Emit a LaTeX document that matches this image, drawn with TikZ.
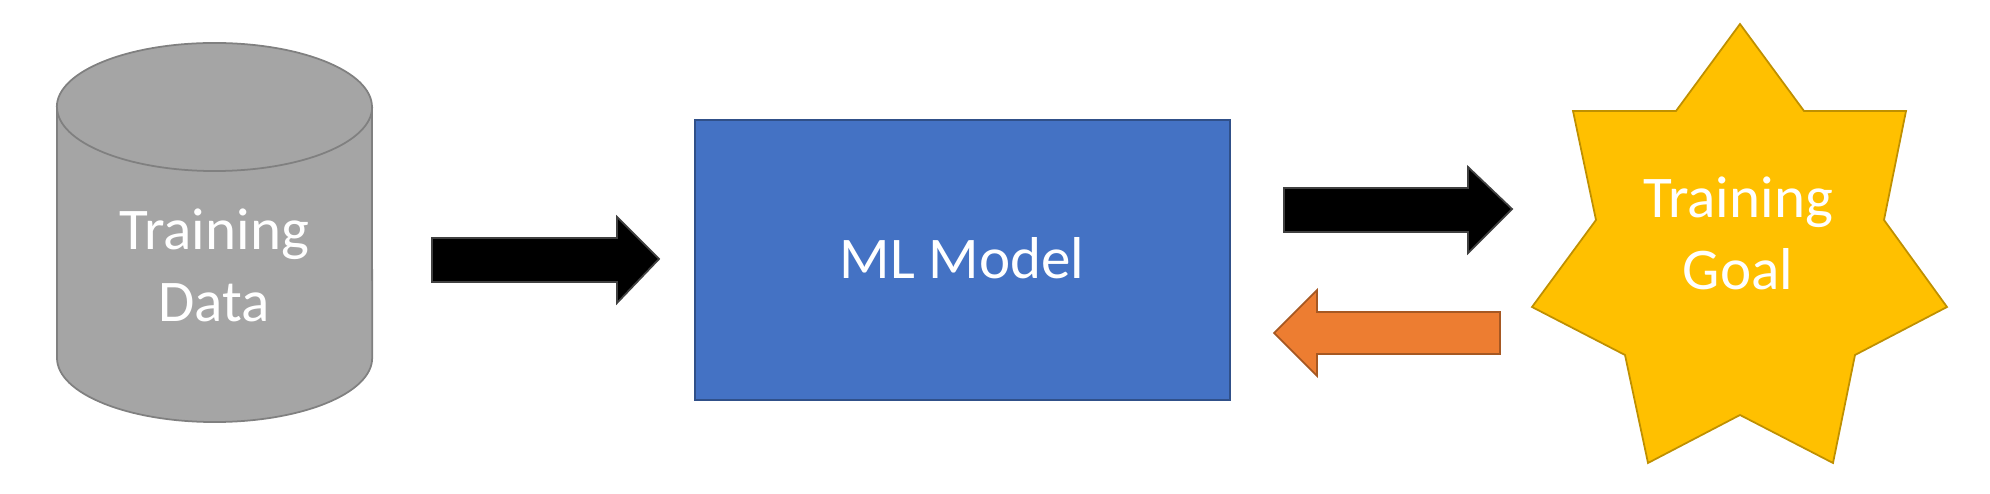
\documentclass[tikz,border=0pt]{standalone}
\usepackage{fontspec}
\setmainfont{Carlito}
\usetikzlibrary{positioning}

\definecolor{datagray}{HTML}{A5A5A5}
\definecolor{modelblue}{HTML}{4472C4}
\definecolor{goalgold}{HTML}{FFC000}
\definecolor{lossorange}{HTML}{ED7D31}

\begin{document}
\begin{tikzpicture}[x=0.01cm, y=0.01cm, line width=0.5pt,
    lbl/.style={text=white, align=center, font=\fontsize{16.8}{20.5}\selectfont},
    blk/.style={fill=black, draw=black!75},
    back/.style={fill=lossorange, draw=lossorange!70!black}]
    \useasboundingbox (0,0) rectangle (1990,494);
    % Training data (cylinder)
    \filldraw[fill=datagray, draw=black!50] (57,387) -- (57,136)
        arc[start angle=180, end angle=360, x radius=1.575cm, y radius=0.64cm]
        -- (372,387) arc[start angle=0, end angle=180, x radius=1.575cm, y radius=0.64cm];
    \draw[black!50] (57,387) arc[start angle=180, end angle=360, x radius=1.575cm, y radius=0.64cm];
    \node[lbl] (data) at (214,229) {Training\\Data};
    % ML model
    \filldraw[fill=modelblue, draw=modelblue!70!black] (695,94) rectangle (1230,374);
    \node[lbl] (model) at (962,236) {ML Model};
    % Training goal (star)
    \filldraw[fill=goalgold, draw=goalgold!75!black] (1740,470) -- (1804,383) -- (1906,383)
        -- (1884,274) -- (1947,187) -- (1855,139) -- (1833,31) -- (1740,79) -- (1648,31)
        -- (1625,139) -- (1532,187) -- (1596,274) -- (1573,383) -- (1676,383) -- cycle;
    \node[lbl] (goal) at (1738,261) {Training\\Goal};
    % Block arrows
    \draw[blk] (432,256) -- (617,256) -- (617,277) -- (659,235) -- (617,191) -- (617,212) -- (432,212) -- cycle;
    \draw[blk] (1284,306) -- (1468,306) -- (1468,327) -- (1512,285) -- (1468,241) -- (1468,262) -- (1284,262) -- cycle;
    \draw[back] (1500,182) -- (1317,182) -- (1317,204) -- (1274,161) -- (1317,118) -- (1317,140) -- (1500,140) -- cycle;
\end{tikzpicture}
\end{document}
